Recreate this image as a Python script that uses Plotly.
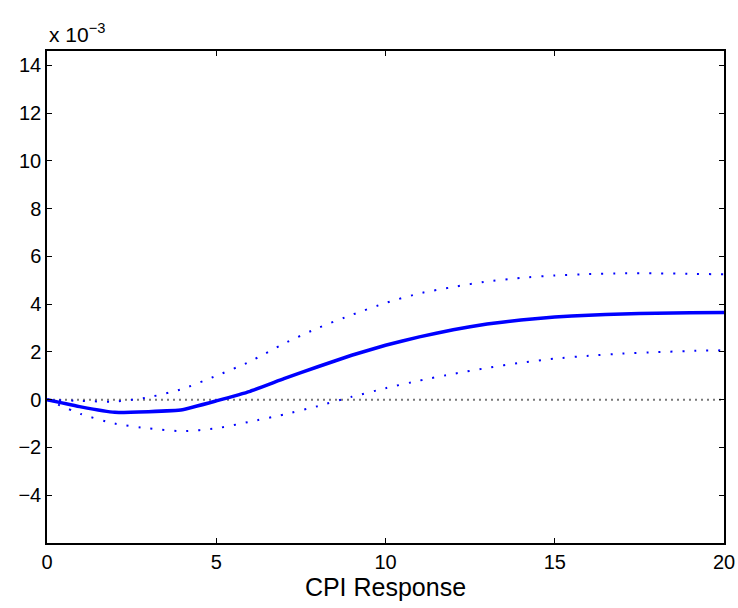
import plotly.graph_objects as go

x = list(range(21))
response = [0, -0.30, -0.53, -0.50, -0.42, -0.05, 0.35, 0.88, 1.38, 1.86, 2.28,
            2.63, 2.93, 3.17, 3.34, 3.46, 3.54, 3.59, 3.62, 3.64, 3.65]
upper = [0, -0.05, -0.08, 0.10, 0.45, 1.00, 1.60, 2.35, 3.00, 3.55, 4.05,
         4.45, 4.72, 4.95, 5.10, 5.20, 5.26, 5.29, 5.29, 5.27, 5.25]
lower = [0, -0.60, -1.00, -1.20, -1.32, -1.20, -0.92, -0.62, -0.27, 0.12, 0.48,
         0.80, 1.08, 1.33, 1.55, 1.72, 1.84, 1.93, 1.99, 2.04, 2.07]
zero = [0] * 21
scale = 1e-3

yticks = [-4, -2, 0, 2, 4, 6, 8, 10, 12, 14]
xticks = [0, 5, 10, 15, 20]

fig = go.Figure()
fig.add_trace(go.Scatter(x=x, y=[v * scale for v in zero], mode="lines",
                         line=dict(color="rgb(120,120,120)", width=2, dash="2px,4px"),
                         hoverinfo="skip"))
fig.add_trace(go.Scatter(x=x, y=[v * scale for v in upper], mode="lines",
                         line=dict(color="blue", width=2, dash="2px,10px", shape="spline", smoothing=0.6)))
fig.add_trace(go.Scatter(x=x, y=[v * scale for v in lower], mode="lines",
                         line=dict(color="blue", width=2, dash="2px,10px", shape="spline", smoothing=0.6)))
fig.add_trace(go.Scatter(x=x, y=[v * scale for v in response], mode="lines",
                         line=dict(color="blue", width=3.5, shape="spline", smoothing=0.3)))

font = dict(family="Liberation Sans, Arial, Helvetica, sans-serif", color="black")

fig.update_layout(
    width=738, height=608,
    margin=dict(l=47, r=14, t=51, b=65),
    plot_bgcolor="white", paper_bgcolor="white",
    showlegend=False,
    font=dict(size=20, **font),
    xaxis=dict(range=[0, 20], tickvals=xticks, ticktext=[str(v) for v in xticks],
               ticks="inside", ticklen=5, tickwidth=1, tickcolor="black",
               showline=True, linecolor="black", linewidth=1.5, mirror="ticks",
               showgrid=False, zeroline=False, automargin=False,
               title=dict(text="CPI Response", font=dict(size=25, **font), standoff=5),
               tickfont=dict(size=20, **font)),
    yaxis=dict(range=[-6 * scale, 14.6 * scale], tickvals=[v * scale for v in yticks],
               ticktext=["\u2212" + str(-v) if v < 0 else str(v) for v in yticks],
               ticks="inside", ticklen=5, tickwidth=1, tickcolor="black",
               showline=True, linecolor="black", linewidth=1.5, mirror="ticks",
               showgrid=False, zeroline=False, automargin=False,
               tickfont=dict(size=20, **font)),
)

fig.add_annotation(text="x 10<sup>\u22123</sup>", xref="paper", yref="paper",
                   x=0, y=1, xanchor="left", yanchor="bottom", yshift=3,
                   showarrow=False, font=dict(size=21, **font))

fig.write_html("out.html")
